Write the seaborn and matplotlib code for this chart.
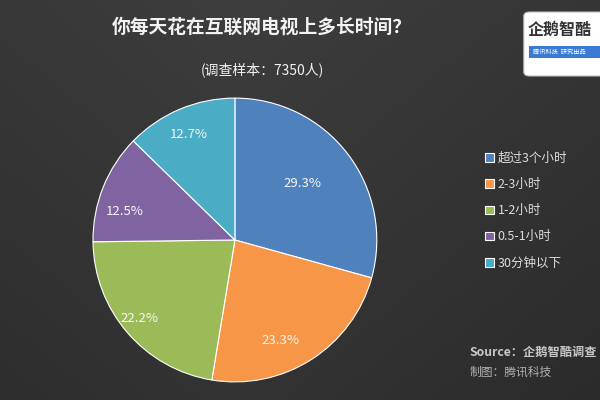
import matplotlib
matplotlib.use("Agg")
import matplotlib.pyplot as plt
import seaborn as sns
import numpy as np
from matplotlib.patches import FancyBboxPatch, Rectangle

categories = ["超过3个小时", "2-3小时", "1-2小时", "0.5-1小时", "30分钟以下"]
values = [29.3, 23.3, 22.2, 12.5, 12.7]
colors = ["#4f81bd", "#f79646", "#9bbb59", "#8064a2", "#4bacc6"]
label_radius = [0.62, 0.78, 0.87, 0.80, 0.81]
label_angle_shift = [3, -8, -1, 7, 1]

sns.set_theme(style="dark")
plt.rcParams['font.family'] = ['Noto Sans CJK SC', 'DejaVu Sans']

fig = plt.figure(figsize=(6, 4), dpi=100)
# background gradient
bg = fig.add_axes([0, 0, 1, 1])
gx = np.linspace(0, 1, 300)
gy = np.linspace(0, 1, 200)
X, Y = np.meshgrid(gx, gy)
grad = 0.24 - 0.05 * np.abs(X - 0.4) - 0.04 * (1 - Y)
bg.imshow(np.dstack([grad, grad, grad]), extent=[0, 1, 0, 1], aspect='auto', origin='lower')
bg.axis('off')

ax = fig.add_axes([0.155, 0.045, 0.473, 0.71])
wedges, _ = ax.pie(values, colors=colors, startangle=90, counterclock=False,
                   wedgeprops=dict(edgecolor='white', linewidth=0.8))
ax.set_aspect('equal')
ax.set_xlim(-1, 1)
ax.set_ylim(-1, 1)
for w, v, r, s in zip(wedges, values, label_radius, label_angle_shift):
    ang = np.deg2rad((w.theta1 + w.theta2) / 2 + s)
    ax.text(r * np.cos(ang), r * np.sin(ang), f"{v}%", ha='center', va='center',
            color='#f7f7f7', fontsize=9.5)

leg = ax.legend(wedges, categories, loc='upper left', frameon=False, fontsize=9,
                handlelength=0.7, handleheight=0.7, handletextpad=0.3, labelspacing=1.05,
                labelcolor='#dcdcdc')
leg.set_bbox_to_anchor((0.79, 0.648), transform=fig.transFigure)

fig.text(0.437, 0.932, "你每天花在互联网电视上多长时间？", ha='center', va='center',
         fontsize=13.5, fontweight='bold', color='#f2f2f2')
fig.text(0.437, 0.825, "(调查样本：7350人)", ha='center', va='center',
         fontsize=10, color='#f2f2f2')

fig.text(0.783, 0.118, "Source：企鹅智酷调查", ha='left', va='center', fontsize=8.8,
         style='italic', color='#c8c8c8', fontweight='bold')
fig.text(0.783, 0.07, "制图：腾讯科技", ha='left', va='center', fontsize=8.5,
         style='italic', color='#b0b0b0')

# logo box
logo = FancyBboxPatch((0.873, 0.81), 0.14, 0.16, boxstyle="round,pad=0,rounding_size=0.01",
                      transform=fig.transFigure, facecolor='white', edgecolor='#bbbbbb',
                      linewidth=0.8)
fig.patches.append(logo)
fig.text(0.879, 0.925, "企鹅智酷", ha='left', va='center', fontsize=11.5,
         color='#333333', fontweight='bold')
bar = Rectangle((0.882, 0.855), 0.12, 0.03, transform=fig.transFigure,
                facecolor='#3b7bd4', edgecolor='none')
fig.patches.append(bar)
fig.text(0.888, 0.87, "腾讯科技  研究出品", ha='left', va='center', fontsize=4.5,
         color='white', style='italic')

fig.savefig("out.png", dpi=100)
